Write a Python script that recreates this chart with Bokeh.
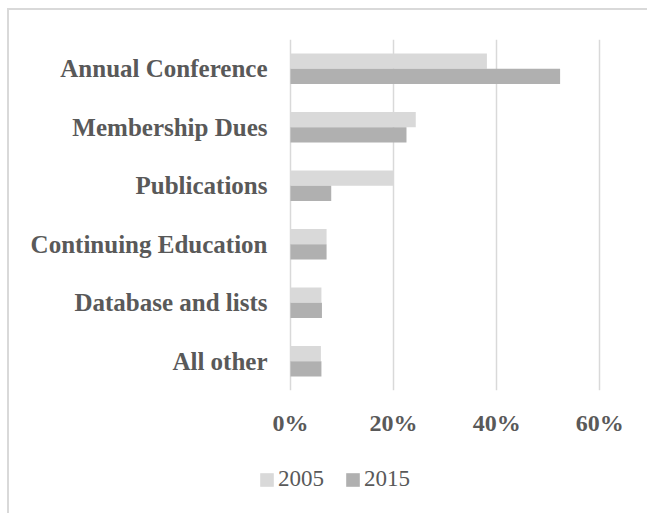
from bokeh.plotting import figure
from bokeh.models import (ColumnDataSource, FactorRange, Range1d, FixedTicker,
                          NumeralTickFormatter, Legend, LegendItem)
from bokeh.layouts import column
from bokeh.transform import dodge
from bokeh.embed import file_html
from bokeh.resources import INLINE

categories = ["Annual Conference", "Membership Dues", "Publications",
              "Continuing Education", "Database and lists", "All other"]
y2005 = [0.381, 0.243, 0.200, 0.070, 0.060, 0.059]
y2015 = [0.523, 0.225, 0.079, 0.070, 0.061, 0.060]
series = ["2005", "2015"]
colors = ["#d9d9d9", "#b0b0b0"]
x_ticks = [0, 0.2, 0.4, 0.6]

src = ColumnDataSource(dict(cat=categories, a=y2005, b=y2015))

FONT = "Liberation Serif"
TXT = "#595959"

p = figure(y_range=FactorRange(factors=list(reversed(categories)), range_padding=0),
           x_range=Range1d(-0.0776, 0.6033),
           frame_width=351, frame_height=351,
           min_border_left=241, min_border_right=46,
           min_border_top=29, min_border_bottom=50,
           output_backend="svg", toolbar_location=None)

r1 = p.hbar(y=dodge("cat", 0.1308, range=p.y_range), left=0, right="a", height=0.2615,
            source=src, fill_color=colors[0], line_color=None)
r2 = p.hbar(y=dodge("cat", -0.1308, range=p.y_range), left=0, right="b", height=0.2615,
            source=src, fill_color=colors[1], line_color=None)

p.outline_line_color = None
p.background_fill_color = "white"
p.border_fill_color = "white"

p.ygrid.grid_line_color = None
p.xgrid.grid_line_color = "#d9d9d9"
p.xgrid.grid_line_width = 1.5
p.xaxis.ticker = FixedTicker(ticks=x_ticks)
p.xaxis.formatter = NumeralTickFormatter(format="0%")

for ax in (p.xaxis[0], p.yaxis[0]):
    ax.axis_line_color = None
    ax.major_tick_line_color = None
    ax.minor_tick_line_color = None
    ax.major_tick_in = 0
    ax.major_tick_out = 0
    ax.major_label_text_font = FONT
    ax.major_label_text_font_style = "bold"
    ax.major_label_text_color = TXT

p.yaxis.major_label_text_font_size = "25px"
p.yaxis.major_label_standoff = -17
p.xaxis.major_label_text_font_size = "24px"
p.xaxis.major_label_standoff = 19

# legend strip below the chart (proxy glyphs kept outside the visible range)
p2 = figure(width=638, height=73, x_range=Range1d(0, 1), y_range=Range1d(0, 1),
            min_border=0, x_axis_type=None, y_axis_type=None,
            output_backend="svg", toolbar_location=None)
p2.grid.visible = False
p2.outline_line_color = None
l1 = p2.hbar(y=-5, left=0, right=0, height=0.1,
             fill_color=colors[0], line_color=None)
l2 = p2.hbar(y=-5, left=0, right=0, height=0.1,
             fill_color=colors[1], line_color=None)

legend = Legend(items=[LegendItem(label=series[0], renderers=[l1]),
                       LegendItem(label=series[1], renderers=[l2])],
                location=(8, 21), orientation="horizontal",
                padding=0, margin=0, spacing=20,
                glyph_width=17, glyph_height=17, label_standoff=3,
                label_text_font=FONT, label_text_font_size="23px",
                label_text_color=TXT,
                border_line_color=None, background_fill_alpha=0)
p2.add_layout(legend, "center")

lay = column(p, p2, spacing=0)
lay.styles = {"margin-left": "7px", "margin-top": "8px",
              "border-left": "2px solid #d9d9d9", "border-top": "2px solid #d9d9d9"}

open("out.html", "w").write(file_html(lay, INLINE))
